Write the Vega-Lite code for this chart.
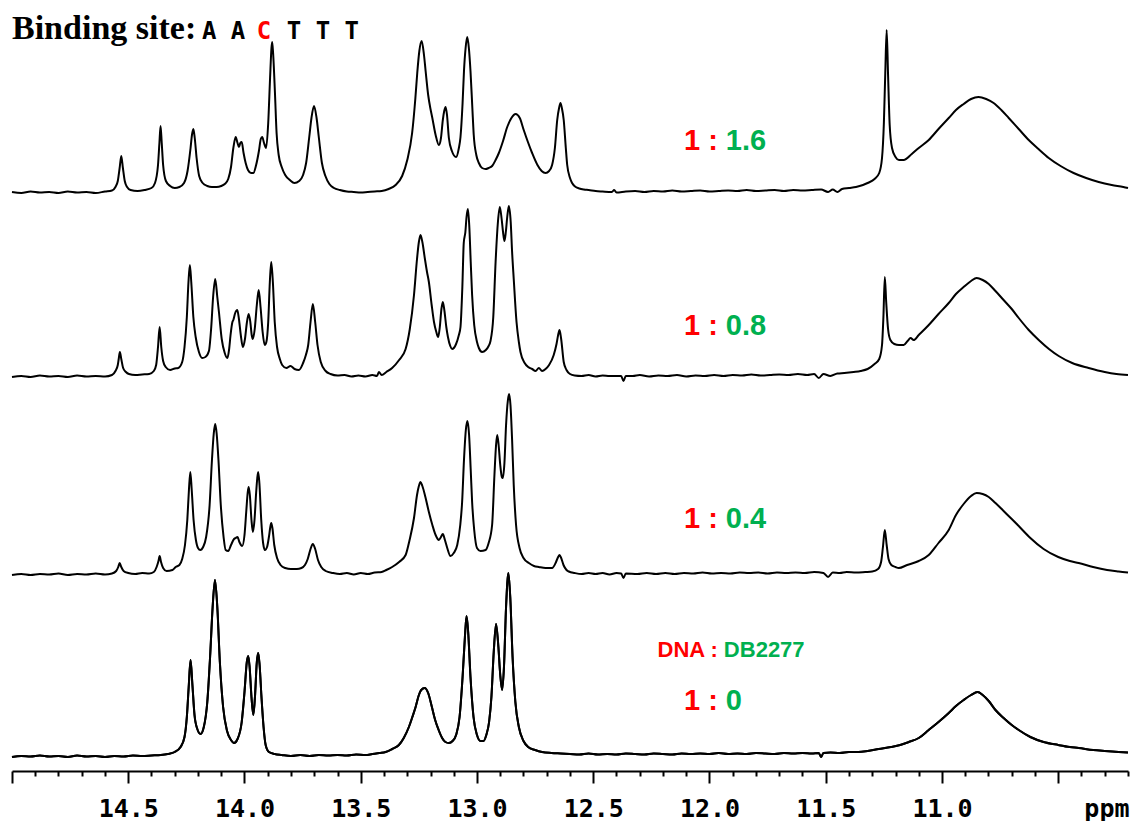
{
  "$schema": "https://vega.github.io/schema/vega-lite/v6.json",
  "padding": {"left": 8, "top": 0, "right": 0, "bottom": 0},
  "background": "white",
  "spacing": 0,
  "bounds": "flush",
  "config": {"view": {"stroke": null}, "concat": {"spacing": 0}},
  "resolve": {"scale": {"x": "independent", "y": "independent"}},
  "datasets": {
    "r16": [
      {"ppm":15.00,"amp":1},{"ppm":14.96,"amp":0},{"ppm":14.92,"amp":1.5},{"ppm":14.88,"amp":0.5},{"ppm":14.84,"amp":1},{"ppm":14.80,"amp":0},{"ppm":14.76,"amp":1.5},{"ppm":14.72,"amp":0.5},{"ppm":14.68,"amp":1},{"ppm":14.64,"amp":0},{"ppm":14.60,"amp":1.5},{"ppm":14.57,"amp":2.5},{"ppm":14.555,"amp":6},{"ppm":14.545,"amp":12},{"ppm":14.537,"amp":25},{"ppm":14.530,"amp":37},{"ppm":14.523,"amp":25},{"ppm":14.515,"amp":12},{"ppm":14.505,"amp":6},{"ppm":14.49,"amp":3},{"ppm":14.46,"amp":2},{"ppm":14.43,"amp":3},{"ppm":14.40,"amp":5},{"ppm":14.385,"amp":10},{"ppm":14.372,"amp":28},{"ppm":14.366,"amp":50},{"ppm":14.361,"amp":67},{"ppm":14.356,"amp":50},{"ppm":14.350,"amp":28},{"ppm":14.338,"amp":12},{"ppm":14.32,"amp":7},{"ppm":14.30,"amp":5},{"ppm":14.28,"amp":6},{"ppm":14.26,"amp":10},{"ppm":14.245,"amp":22},{"ppm":14.232,"amp":45},{"ppm":14.226,"amp":58},{"ppm":14.220,"amp":64},{"ppm":14.214,"amp":55},{"ppm":14.206,"amp":35},{"ppm":14.195,"amp":17},{"ppm":14.18,"amp":10},{"ppm":14.16,"amp":7},{"ppm":14.14,"amp":6},{"ppm":14.12,"amp":6},{"ppm":14.10,"amp":7},{"ppm":14.085,"amp":9},{"ppm":14.070,"amp":14},{"ppm":14.058,"amp":26},{"ppm":14.048,"amp":45},{"ppm":14.038,"amp":56},{"ppm":14.030,"amp":50},{"ppm":14.024,"amp":46},{"ppm":14.018,"amp":50},{"ppm":14.012,"amp":51},{"ppm":14.004,"amp":40},{"ppm":13.995,"amp":30},{"ppm":13.985,"amp":23},{"ppm":13.972,"amp":20},{"ppm":13.962,"amp":20},{"ppm":13.950,"amp":28},{"ppm":13.938,"amp":42},{"ppm":13.930,"amp":54},{"ppm":13.924,"amp":56},{"ppm":13.916,"amp":50},{"ppm":13.907,"amp":45},{"ppm":13.898,"amp":70},{"ppm":13.890,"amp":115},{"ppm":13.884,"amp":145},{"ppm":13.881,"amp":151},{"ppm":13.877,"amp":140},{"ppm":13.869,"amp":100},{"ppm":13.862,"amp":60},{"ppm":13.853,"amp":38},{"ppm":13.840,"amp":26},{"ppm":13.825,"amp":18},{"ppm":13.805,"amp":13},{"ppm":13.785,"amp":10},{"ppm":13.765,"amp":12},{"ppm":13.748,"amp":18},{"ppm":13.735,"amp":30},{"ppm":13.722,"amp":55},{"ppm":13.712,"amp":75},{"ppm":13.701,"amp":87},{"ppm":13.690,"amp":75},{"ppm":13.680,"amp":55},{"ppm":13.667,"amp":30},{"ppm":13.652,"amp":17},{"ppm":13.635,"amp":9},{"ppm":13.615,"amp":5},{"ppm":13.59,"amp":3},{"ppm":13.56,"amp":1.5},{"ppm":13.53,"amp":1},{"ppm":13.50,"amp":0.5},{"ppm":13.47,"amp":1},{"ppm":13.44,"amp":1.5},{"ppm":13.41,"amp":2},{"ppm":13.38,"amp":4},{"ppm":13.35,"amp":8},{"ppm":13.322,"amp":17},{"ppm":13.300,"amp":33},{"ppm":13.279,"amp":60},{"ppm":13.265,"amp":95},{"ppm":13.257,"amp":120},{"ppm":13.248,"amp":142},{"ppm":13.238,"amp":152},{"ppm":13.228,"amp":138},{"ppm":13.221,"amp":122},{"ppm":13.210,"amp":98},{"ppm":13.200,"amp":84},{"ppm":13.193,"amp":76},{"ppm":13.178,"amp":58},{"ppm":13.164,"amp":48},{"ppm":13.155,"amp":55},{"ppm":13.147,"amp":73},{"ppm":13.141,"amp":82},{"ppm":13.135,"amp":86},{"ppm":13.129,"amp":78},{"ppm":13.121,"amp":55},{"ppm":13.108,"amp":42},{"ppm":13.090,"amp":36},{"ppm":13.078,"amp":45},{"ppm":13.071,"amp":56},{"ppm":13.062,"amp":90},{"ppm":13.056,"amp":122},{"ppm":13.049,"amp":145},{"ppm":13.042,"amp":156},{"ppm":13.035,"amp":145},{"ppm":13.028,"amp":122},{"ppm":13.020,"amp":85},{"ppm":13.014,"amp":58},{"ppm":13.003,"amp":38},{"ppm":12.992,"amp":30},{"ppm":12.978,"amp":25},{"ppm":12.963,"amp":24},{"ppm":12.950,"amp":25},{"ppm":12.935,"amp":27},{"ppm":12.920,"amp":33},{"ppm":12.906,"amp":40},{"ppm":12.888,"amp":52},{"ppm":12.870,"amp":66},{"ppm":12.852,"amp":75},{"ppm":12.834,"amp":79},{"ppm":12.816,"amp":75},{"ppm":12.799,"amp":63},{"ppm":12.781,"amp":51},{"ppm":12.763,"amp":40},{"ppm":12.740,"amp":28},{"ppm":12.722,"amp":22},{"ppm":12.705,"amp":20},{"ppm":12.690,"amp":22},{"ppm":12.677,"amp":28},{"ppm":12.665,"amp":45},{"ppm":12.655,"amp":73},{"ppm":12.647,"amp":85},{"ppm":12.641,"amp":90},{"ppm":12.635,"amp":85},{"ppm":12.627,"amp":73},{"ppm":12.618,"amp":45},{"ppm":12.612,"amp":28},{"ppm":12.600,"amp":15},{"ppm":12.591,"amp":10},{"ppm":12.575,"amp":6},{"ppm":12.56,"amp":4.5},{"ppm":12.54,"amp":3.5},{"ppm":12.52,"amp":3},{"ppm":12.49,"amp":2},{"ppm":12.46,"amp":1.5},{"ppm":12.42,"amp":1},{"ppm":12.41,"amp":3},{"ppm":12.40,"amp":0.5},{"ppm":12.36,"amp":1.5},{"ppm":12.32,"amp":2},{"ppm":12.28,"amp":1},{"ppm":12.24,"amp":2},{"ppm":12.20,"amp":1.5},{"ppm":12.16,"amp":2.5},{"ppm":12.12,"amp":1.5},{"ppm":12.08,"amp":2},{"ppm":12.04,"amp":2.5},{"ppm":12.00,"amp":1.5},{"ppm":11.96,"amp":2},{"ppm":11.92,"amp":2.5},{"ppm":11.88,"amp":2},{"ppm":11.84,"amp":3},{"ppm":11.80,"amp":2},{"ppm":11.76,"amp":2.5},{"ppm":11.72,"amp":3},{"ppm":11.68,"amp":2},{"ppm":11.64,"amp":3},{"ppm":11.60,"amp":2.5},{"ppm":11.56,"amp":3},{"ppm":11.52,"amp":3.5},{"ppm":11.49,"amp":1},{"ppm":11.47,"amp":3.5},{"ppm":11.45,"amp":1},{"ppm":11.43,"amp":4},{"ppm":11.40,"amp":5},{"ppm":11.37,"amp":6},{"ppm":11.34,"amp":8},{"ppm":11.32,"amp":10},{"ppm":11.29,"amp":14},{"ppm":11.27,"amp":20},{"ppm":11.258,"amp":35},{"ppm":11.250,"amp":70},{"ppm":11.244,"amp":120},{"ppm":11.238,"amp":163},{"ppm":11.232,"amp":118},{"ppm":11.225,"amp":68},{"ppm":11.215,"amp":45},{"ppm":11.200,"amp":36},{"ppm":11.185,"amp":33},{"ppm":11.165,"amp":33},{"ppm":11.13,"amp":39},{"ppm":11.10,"amp":45},{"ppm":11.057,"amp":53},{"ppm":11.015,"amp":64},{"ppm":10.971,"amp":75},{"ppm":10.940,"amp":83},{"ppm":10.907,"amp":89},{"ppm":10.875,"amp":94},{"ppm":10.843,"amp":96},{"ppm":10.810,"amp":94},{"ppm":10.778,"amp":90},{"ppm":10.745,"amp":83},{"ppm":10.713,"amp":75},{"ppm":10.670,"amp":64},{"ppm":10.627,"amp":53},{"ppm":10.585,"amp":44},{"ppm":10.541,"amp":35},{"ppm":10.49,"amp":27},{"ppm":10.434,"amp":20},{"ppm":10.38,"amp":15},{"ppm":10.326,"amp":11},{"ppm":10.27,"amp":8},{"ppm":10.22,"amp":6},{"ppm":10.20,"amp":5}
    ],
    "r08": [
      {"ppm":15.00,"amp":0},{"ppm":14.96,"amp":1},{"ppm":14.92,"amp":0},{"ppm":14.88,"amp":1.5},{"ppm":14.84,"amp":0.5},{"ppm":14.80,"amp":1},{"ppm":14.76,"amp":0},{"ppm":14.72,"amp":1.5},{"ppm":14.68,"amp":0.5},{"ppm":14.64,"amp":1},{"ppm":14.60,"amp":0.5},{"ppm":14.57,"amp":2},{"ppm":14.555,"amp":6},{"ppm":14.545,"amp":12},{"ppm":14.541,"amp":18},{"ppm":14.536,"amp":25},{"ppm":14.530,"amp":18},{"ppm":14.522,"amp":9},{"ppm":14.510,"amp":5},{"ppm":14.497,"amp":3},{"ppm":14.47,"amp":2},{"ppm":14.44,"amp":2.5},{"ppm":14.41,"amp":3},{"ppm":14.39,"amp":6},{"ppm":14.380,"amp":12},{"ppm":14.372,"amp":30},{"ppm":14.365,"amp":50},{"ppm":14.358,"amp":30},{"ppm":14.350,"amp":16},{"ppm":14.339,"amp":10},{"ppm":14.32,"amp":7},{"ppm":14.30,"amp":8.5},{"ppm":14.285,"amp":9},{"ppm":14.268,"amp":15},{"ppm":14.258,"amp":30},{"ppm":14.248,"amp":60},{"ppm":14.241,"amp":95},{"ppm":14.235,"amp":112},{"ppm":14.229,"amp":95},{"ppm":14.220,"amp":60},{"ppm":14.210,"amp":40},{"ppm":14.196,"amp":25},{"ppm":14.182,"amp":19},{"ppm":14.168,"amp":20},{"ppm":14.153,"amp":26},{"ppm":14.143,"amp":50},{"ppm":14.135,"amp":80},{"ppm":14.126,"amp":98},{"ppm":14.117,"amp":80},{"ppm":14.110,"amp":65},{"ppm":14.098,"amp":38},{"ppm":14.085,"amp":24},{"ppm":14.074,"amp":19},{"ppm":14.066,"amp":28},{"ppm":14.060,"amp":42},{"ppm":14.052,"amp":55},{"ppm":14.048,"amp":57},{"ppm":14.040,"amp":64},{"ppm":14.031,"amp":67},{"ppm":14.024,"amp":58},{"ppm":14.016,"amp":42},{"ppm":14.007,"amp":30},{"ppm":13.998,"amp":38},{"ppm":13.990,"amp":54},{"ppm":13.982,"amp":63},{"ppm":13.975,"amp":55},{"ppm":13.969,"amp":42},{"ppm":13.964,"amp":38},{"ppm":13.956,"amp":48},{"ppm":13.947,"amp":72},{"ppm":13.939,"amp":87},{"ppm":13.931,"amp":70},{"ppm":13.922,"amp":45},{"ppm":13.913,"amp":32},{"ppm":13.906,"amp":35},{"ppm":13.898,"amp":55},{"ppm":13.891,"amp":95},{"ppm":13.885,"amp":115},{"ppm":13.878,"amp":95},{"ppm":13.870,"amp":55},{"ppm":13.860,"amp":30},{"ppm":13.848,"amp":18},{"ppm":13.838,"amp":12},{"ppm":13.820,"amp":9},{"ppm":13.802,"amp":11},{"ppm":13.785,"amp":8},{"ppm":13.766,"amp":7},{"ppm":13.748,"amp":14},{"ppm":13.736,"amp":22},{"ppm":13.726,"amp":32},{"ppm":13.716,"amp":55},{"ppm":13.706,"amp":73},{"ppm":13.696,"amp":55},{"ppm":13.686,"amp":32},{"ppm":13.672,"amp":15},{"ppm":13.651,"amp":6},{"ppm":13.63,"amp":3},{"ppm":13.60,"amp":1.5},{"ppm":13.57,"amp":2},{"ppm":13.54,"amp":0.5},{"ppm":13.51,"amp":1.5},{"ppm":13.48,"amp":0.5},{"ppm":13.45,"amp":2},{"ppm":13.43,"amp":1},{"ppm":13.422,"amp":5},{"ppm":13.41,"amp":2},{"ppm":13.39,"amp":5},{"ppm":13.365,"amp":9},{"ppm":13.335,"amp":17},{"ppm":13.307,"amp":28},{"ppm":13.289,"amp":48},{"ppm":13.271,"amp":82},{"ppm":13.258,"amp":118},{"ppm":13.250,"amp":135},{"ppm":13.243,"amp":142},{"ppm":13.235,"amp":135},{"ppm":13.224,"amp":118},{"ppm":13.215,"amp":105},{"ppm":13.207,"amp":95},{"ppm":13.195,"amp":72},{"ppm":13.185,"amp":55},{"ppm":13.175,"amp":45},{"ppm":13.167,"amp":40},{"ppm":13.160,"amp":50},{"ppm":13.153,"amp":68},{"ppm":13.147,"amp":75},{"ppm":13.140,"amp":66},{"ppm":13.132,"amp":50},{"ppm":13.125,"amp":40},{"ppm":13.115,"amp":31},{"ppm":13.107,"amp":28},{"ppm":13.090,"amp":33},{"ppm":13.078,"amp":42},{"ppm":13.071,"amp":50},{"ppm":13.063,"amp":90},{"ppm":13.057,"amp":134},{"ppm":13.050,"amp":145},{"ppm":13.045,"amp":160},{"ppm":13.039,"amp":168},{"ppm":13.033,"amp":150},{"ppm":13.027,"amp":115},{"ppm":13.021,"amp":82},{"ppm":13.012,"amp":52},{"ppm":13.000,"amp":35},{"ppm":12.992,"amp":29},{"ppm":12.978,"amp":25},{"ppm":12.962,"amp":27},{"ppm":12.950,"amp":31},{"ppm":12.942,"amp":36},{"ppm":12.930,"amp":60},{"ppm":12.920,"amp":115},{"ppm":12.910,"amp":155},{"ppm":12.902,"amp":170},{"ppm":12.894,"amp":158},{"ppm":12.888,"amp":145},{"ppm":12.882,"amp":136},{"ppm":12.876,"amp":145},{"ppm":12.870,"amp":160},{"ppm":12.863,"amp":171},{"ppm":12.855,"amp":155},{"ppm":12.849,"amp":125},{"ppm":12.842,"amp":98},{"ppm":12.830,"amp":55},{"ppm":12.820,"amp":35},{"ppm":12.813,"amp":25},{"ppm":12.795,"amp":14},{"ppm":12.780,"amp":10},{"ppm":12.763,"amp":8},{"ppm":12.748,"amp":6},{"ppm":12.734,"amp":9},{"ppm":12.720,"amp":6},{"ppm":12.705,"amp":8},{"ppm":12.690,"amp":12},{"ppm":12.670,"amp":22},{"ppm":12.658,"amp":33},{"ppm":12.651,"amp":42},{"ppm":12.645,"amp":47},{"ppm":12.638,"amp":38},{"ppm":12.627,"amp":15},{"ppm":12.615,"amp":7},{"ppm":12.600,"amp":3},{"ppm":12.58,"amp":1.5},{"ppm":12.55,"amp":1},{"ppm":12.52,"amp":2},{"ppm":12.49,"amp":0.5},{"ppm":12.46,"amp":1.5},{"ppm":12.43,"amp":1},{"ppm":12.38,"amp":1},{"ppm":12.37,"amp":-4},{"ppm":12.36,"amp":1},{"ppm":12.33,"amp":1},{"ppm":12.30,"amp":2},{"ppm":12.26,"amp":0.5},{"ppm":12.22,"amp":1.5},{"ppm":12.18,"amp":1},{"ppm":12.14,"amp":2},{"ppm":12.10,"amp":0.5},{"ppm":12.06,"amp":1.5},{"ppm":12.02,"amp":1},{"ppm":11.98,"amp":2},{"ppm":11.94,"amp":1},{"ppm":11.90,"amp":2},{"ppm":11.86,"amp":1.5},{"ppm":11.82,"amp":2.5},{"ppm":11.78,"amp":1.5},{"ppm":11.74,"amp":2},{"ppm":11.70,"amp":2.5},{"ppm":11.66,"amp":2},{"ppm":11.62,"amp":3},{"ppm":11.58,"amp":2},{"ppm":11.55,"amp":3},{"ppm":11.53,"amp":-1},{"ppm":11.51,"amp":3},{"ppm":11.48,"amp":1},{"ppm":11.45,"amp":3.5},{"ppm":11.42,"amp":4},{"ppm":11.38,"amp":5},{"ppm":11.35,"amp":6},{"ppm":11.32,"amp":8},{"ppm":11.29,"amp":13},{"ppm":11.27,"amp":18},{"ppm":11.258,"amp":32},{"ppm":11.252,"amp":60},{"ppm":11.246,"amp":100},{"ppm":11.240,"amp":75},{"ppm":11.232,"amp":48},{"ppm":11.222,"amp":37},{"ppm":11.205,"amp":33},{"ppm":11.185,"amp":32},{"ppm":11.165,"amp":32},{"ppm":11.148,"amp":36},{"ppm":11.135,"amp":39},{"ppm":11.122,"amp":37},{"ppm":11.10,"amp":42},{"ppm":11.057,"amp":52},{"ppm":11.015,"amp":63},{"ppm":10.971,"amp":74},{"ppm":10.94,"amp":83},{"ppm":10.907,"amp":90},{"ppm":10.875,"amp":96},{"ppm":10.851,"amp":99},{"ppm":10.825,"amp":97},{"ppm":10.799,"amp":93},{"ppm":10.77,"amp":86},{"ppm":10.735,"amp":77},{"ppm":10.70,"amp":68},{"ppm":10.670,"amp":59},{"ppm":10.627,"amp":47},{"ppm":10.584,"amp":37},{"ppm":10.54,"amp":28},{"ppm":10.498,"amp":21},{"ppm":10.44,"amp":14},{"ppm":10.369,"amp":9},{"ppm":10.30,"amp":5},{"ppm":10.25,"amp":3},{"ppm":10.20,"amp":2}
    ],
    "r04": [
      {"ppm":15.00,"amp":0},{"ppm":14.96,"amp":1},{"ppm":14.92,"amp":0},{"ppm":14.88,"amp":1},{"ppm":14.84,"amp":0.5},{"ppm":14.80,"amp":1.5},{"ppm":14.76,"amp":0},{"ppm":14.72,"amp":1},{"ppm":14.68,"amp":0.5},{"ppm":14.64,"amp":1.5},{"ppm":14.60,"amp":0.5},{"ppm":14.57,"amp":1.5},{"ppm":14.552,"amp":4},{"ppm":14.543,"amp":8},{"ppm":14.537,"amp":12},{"ppm":14.530,"amp":8},{"ppm":14.520,"amp":4},{"ppm":14.50,"amp":2},{"ppm":14.47,"amp":1},{"ppm":14.44,"amp":2},{"ppm":14.41,"amp":1.5},{"ppm":14.39,"amp":3},{"ppm":14.378,"amp":8},{"ppm":14.370,"amp":14},{"ppm":14.365,"amp":19},{"ppm":14.359,"amp":13},{"ppm":14.350,"amp":7},{"ppm":14.335,"amp":4},{"ppm":14.31,"amp":5},{"ppm":14.296,"amp":8},{"ppm":14.280,"amp":10},{"ppm":14.268,"amp":16},{"ppm":14.256,"amp":30},{"ppm":14.246,"amp":55},{"ppm":14.239,"amp":85},{"ppm":14.233,"amp":103},{"ppm":14.227,"amp":85},{"ppm":14.219,"amp":55},{"ppm":14.209,"amp":35},{"ppm":14.200,"amp":27},{"ppm":14.190,"amp":25},{"ppm":14.178,"amp":28},{"ppm":14.165,"amp":38},{"ppm":14.150,"amp":70},{"ppm":14.140,"amp":115},{"ppm":14.132,"amp":142},{"ppm":14.126,"amp":151},{"ppm":14.120,"amp":142},{"ppm":14.112,"amp":115},{"ppm":14.102,"amp":70},{"ppm":14.090,"amp":38},{"ppm":14.081,"amp":25},{"ppm":14.070,"amp":24},{"ppm":14.058,"amp":30},{"ppm":14.045,"amp":36},{"ppm":14.038,"amp":37},{"ppm":14.030,"amp":38},{"ppm":14.022,"amp":33},{"ppm":14.010,"amp":29},{"ppm":14.000,"amp":40},{"ppm":13.992,"amp":65},{"ppm":13.986,"amp":83},{"ppm":13.982,"amp":88},{"ppm":13.977,"amp":80},{"ppm":13.970,"amp":55},{"ppm":13.964,"amp":43},{"ppm":13.957,"amp":55},{"ppm":13.950,"amp":82},{"ppm":13.945,"amp":97},{"ppm":13.941,"amp":103},{"ppm":13.936,"amp":92},{"ppm":13.928,"amp":55},{"ppm":13.920,"amp":32},{"ppm":13.912,"amp":25},{"ppm":13.903,"amp":28},{"ppm":13.895,"amp":38},{"ppm":13.889,"amp":48},{"ppm":13.885,"amp":52},{"ppm":13.880,"amp":47},{"ppm":13.872,"amp":30},{"ppm":13.860,"amp":17},{"ppm":13.845,"amp":10},{"ppm":13.825,"amp":7},{"ppm":13.800,"amp":6},{"ppm":13.775,"amp":6},{"ppm":13.755,"amp":7},{"ppm":13.740,"amp":10},{"ppm":13.728,"amp":16},{"ppm":13.716,"amp":26},{"ppm":13.706,"amp":31},{"ppm":13.696,"amp":26},{"ppm":13.684,"amp":15},{"ppm":13.670,"amp":8},{"ppm":13.651,"amp":4},{"ppm":13.62,"amp":2},{"ppm":13.59,"amp":1},{"ppm":13.56,"amp":2},{"ppm":13.53,"amp":0.5},{"ppm":13.50,"amp":2},{"ppm":13.47,"amp":1},{"ppm":13.44,"amp":2.5},{"ppm":13.41,"amp":3},{"ppm":13.39,"amp":5},{"ppm":13.365,"amp":8},{"ppm":13.335,"amp":13},{"ppm":13.307,"amp":20},{"ppm":13.290,"amp":35},{"ppm":13.271,"amp":57},{"ppm":13.258,"amp":80},{"ppm":13.250,"amp":89},{"ppm":13.243,"amp":93},{"ppm":13.235,"amp":89},{"ppm":13.222,"amp":78},{"ppm":13.207,"amp":63},{"ppm":13.192,"amp":50},{"ppm":13.178,"amp":40},{"ppm":13.164,"amp":35},{"ppm":13.155,"amp":38},{"ppm":13.147,"amp":41},{"ppm":13.138,"amp":35},{"ppm":13.128,"amp":27},{"ppm":13.114,"amp":19},{"ppm":13.100,"amp":22},{"ppm":13.085,"amp":30},{"ppm":13.072,"amp":50},{"ppm":13.064,"amp":73},{"ppm":13.056,"amp":115},{"ppm":13.048,"amp":145},{"ppm":13.041,"amp":154},{"ppm":13.034,"amp":140},{"ppm":13.027,"amp":105},{"ppm":13.021,"amp":73},{"ppm":13.012,"amp":45},{"ppm":13.000,"amp":27},{"ppm":12.985,"amp":24},{"ppm":12.963,"amp":25},{"ppm":12.950,"amp":32},{"ppm":12.935,"amp":50},{"ppm":12.925,"amp":100},{"ppm":12.918,"amp":130},{"ppm":12.913,"amp":140},{"ppm":12.907,"amp":130},{"ppm":12.900,"amp":110},{"ppm":12.893,"amp":98},{"ppm":12.889,"amp":97},{"ppm":12.882,"amp":112},{"ppm":12.875,"amp":150},{"ppm":12.867,"amp":175},{"ppm":12.862,"amp":181},{"ppm":12.856,"amp":170},{"ppm":12.849,"amp":135},{"ppm":12.842,"amp":90},{"ppm":12.832,"amp":50},{"ppm":12.817,"amp":27},{"ppm":12.800,"amp":17},{"ppm":12.777,"amp":12},{"ppm":12.755,"amp":9},{"ppm":12.734,"amp":8},{"ppm":12.705,"amp":7},{"ppm":12.677,"amp":7},{"ppm":12.660,"amp":13},{"ppm":12.651,"amp":18},{"ppm":12.645,"amp":20},{"ppm":12.638,"amp":17},{"ppm":12.628,"amp":10},{"ppm":12.615,"amp":5},{"ppm":12.605,"amp":3.5},{"ppm":12.58,"amp":2},{"ppm":12.55,"amp":1},{"ppm":12.52,"amp":2},{"ppm":12.49,"amp":1},{"ppm":12.46,"amp":2},{"ppm":12.43,"amp":0.5},{"ppm":12.40,"amp":2},{"ppm":12.38,"amp":1.5},{"ppm":12.37,"amp":-3},{"ppm":12.36,"amp":1.5},{"ppm":12.31,"amp":1},{"ppm":12.27,"amp":2},{"ppm":12.23,"amp":1},{"ppm":12.19,"amp":2},{"ppm":12.15,"amp":1},{"ppm":12.11,"amp":2},{"ppm":12.07,"amp":1.5},{"ppm":12.03,"amp":2.5},{"ppm":11.99,"amp":1.5},{"ppm":11.95,"amp":2},{"ppm":11.91,"amp":1.5},{"ppm":11.87,"amp":2.5},{"ppm":11.83,"amp":2},{"ppm":11.79,"amp":2.5},{"ppm":11.75,"amp":1.5},{"ppm":11.71,"amp":2.5},{"ppm":11.67,"amp":2},{"ppm":11.63,"amp":2.5},{"ppm":11.59,"amp":2},{"ppm":11.55,"amp":3},{"ppm":11.51,"amp":2},{"ppm":11.49,"amp":-2},{"ppm":11.47,"amp":2.5},{"ppm":11.44,"amp":2},{"ppm":11.41,"amp":3},{"ppm":11.37,"amp":2.5},{"ppm":11.33,"amp":3},{"ppm":11.30,"amp":3.5},{"ppm":11.275,"amp":6},{"ppm":11.262,"amp":13},{"ppm":11.254,"amp":28},{"ppm":11.246,"amp":45},{"ppm":11.238,"amp":30},{"ppm":11.230,"amp":16},{"ppm":11.218,"amp":10},{"ppm":11.200,"amp":8},{"ppm":11.186,"amp":7},{"ppm":11.15,"amp":10},{"ppm":11.10,"amp":14},{"ppm":11.057,"amp":20},{"ppm":11.015,"amp":32},{"ppm":10.971,"amp":45},{"ppm":10.94,"amp":60},{"ppm":10.907,"amp":71},{"ppm":10.875,"amp":79},{"ppm":10.851,"amp":82},{"ppm":10.825,"amp":81},{"ppm":10.799,"amp":78},{"ppm":10.77,"amp":72},{"ppm":10.735,"amp":64},{"ppm":10.70,"amp":56},{"ppm":10.670,"amp":49},{"ppm":10.62,"amp":37},{"ppm":10.563,"amp":26},{"ppm":10.50,"amp":18},{"ppm":10.45,"amp":14},{"ppm":10.412,"amp":12},{"ppm":10.35,"amp":8},{"ppm":10.29,"amp":5},{"ppm":10.24,"amp":3.5},{"ppm":10.20,"amp":2.5}
    ],
    "r00": [
      {"ppm":15.00,"amp":0},{"ppm":14.96,"amp":1},{"ppm":14.92,"amp":0.5},{"ppm":14.88,"amp":1.5},{"ppm":14.84,"amp":0.5},{"ppm":14.80,"amp":1},{"ppm":14.76,"amp":0},{"ppm":14.72,"amp":1.5},{"ppm":14.68,"amp":0.5},{"ppm":14.64,"amp":1},{"ppm":14.60,"amp":0},{"ppm":14.56,"amp":1},{"ppm":14.52,"amp":0.5},{"ppm":14.48,"amp":1.5},{"ppm":14.44,"amp":1},{"ppm":14.40,"amp":1.5},{"ppm":14.36,"amp":2},{"ppm":14.33,"amp":3},{"ppm":14.30,"amp":5},{"ppm":14.275,"amp":10},{"ppm":14.258,"amp":20},{"ppm":14.248,"amp":40},{"ppm":14.240,"amp":70},{"ppm":14.232,"amp":97},{"ppm":14.224,"amp":72},{"ppm":14.215,"amp":42},{"ppm":14.203,"amp":28},{"ppm":14.189,"amp":23},{"ppm":14.175,"amp":30},{"ppm":14.160,"amp":55},{"ppm":14.148,"amp":100},{"ppm":14.137,"amp":150},{"ppm":14.127,"amp":177},{"ppm":14.117,"amp":150},{"ppm":14.106,"amp":95},{"ppm":14.092,"amp":50},{"ppm":14.075,"amp":26},{"ppm":14.058,"amp":17},{"ppm":14.045,"amp":14},{"ppm":14.030,"amp":18},{"ppm":14.012,"amp":35},{"ppm":14.000,"amp":65},{"ppm":13.990,"amp":95},{"ppm":13.984,"amp":101},{"ppm":13.978,"amp":90},{"ppm":13.970,"amp":60},{"ppm":13.962,"amp":42},{"ppm":13.955,"amp":60},{"ppm":13.947,"amp":95},{"ppm":13.941,"amp":104},{"ppm":13.935,"amp":92},{"ppm":13.927,"amp":60},{"ppm":13.918,"amp":30},{"ppm":13.909,"amp":12},{"ppm":13.895,"amp":5},{"ppm":13.87,"amp":3},{"ppm":13.84,"amp":2},{"ppm":13.80,"amp":1},{"ppm":13.76,"amp":2},{"ppm":13.72,"amp":1},{"ppm":13.68,"amp":2},{"ppm":13.64,"amp":1.5},{"ppm":13.60,"amp":2},{"ppm":13.56,"amp":1.5},{"ppm":13.52,"amp":2.5},{"ppm":13.48,"amp":2},{"ppm":13.45,"amp":3},{"ppm":13.42,"amp":4},{"ppm":13.393,"amp":5},{"ppm":13.365,"amp":8},{"ppm":13.336,"amp":12},{"ppm":13.315,"amp":19},{"ppm":13.293,"amp":30},{"ppm":13.278,"amp":40},{"ppm":13.264,"amp":50},{"ppm":13.250,"amp":62},{"ppm":13.240,"amp":67},{"ppm":13.225,"amp":69},{"ppm":13.210,"amp":64},{"ppm":13.194,"amp":50},{"ppm":13.180,"amp":37},{"ppm":13.165,"amp":27},{"ppm":13.150,"amp":19},{"ppm":13.136,"amp":15},{"ppm":13.121,"amp":14},{"ppm":13.105,"amp":16},{"ppm":13.090,"amp":22},{"ppm":13.075,"amp":40},{"ppm":13.062,"amp":80},{"ppm":13.052,"amp":120},{"ppm":13.045,"amp":141},{"ppm":13.038,"amp":125},{"ppm":13.028,"amp":80},{"ppm":13.015,"amp":40},{"ppm":13.000,"amp":22},{"ppm":12.985,"amp":16},{"ppm":12.972,"amp":16},{"ppm":12.960,"amp":22},{"ppm":12.948,"amp":35},{"ppm":12.938,"amp":60},{"ppm":12.928,"amp":105},{"ppm":12.918,"amp":133},{"ppm":12.908,"amp":110},{"ppm":12.900,"amp":82},{"ppm":12.892,"amp":67},{"ppm":12.884,"amp":90},{"ppm":12.875,"amp":150},{"ppm":12.865,"amp":184},{"ppm":12.857,"amp":160},{"ppm":12.847,"amp":100},{"ppm":12.835,"amp":55},{"ppm":12.820,"amp":30},{"ppm":12.800,"amp":16},{"ppm":12.780,"amp":10},{"ppm":12.75,"amp":7},{"ppm":12.72,"amp":5},{"ppm":12.68,"amp":4},{"ppm":12.64,"amp":3.5},{"ppm":12.60,"amp":3},{"ppm":12.56,"amp":2.5},{"ppm":12.52,"amp":3.5},{"ppm":12.48,"amp":2.5},{"ppm":12.44,"amp":3},{"ppm":12.40,"amp":2.5},{"ppm":12.36,"amp":3.5},{"ppm":12.32,"amp":3},{"ppm":12.28,"amp":2.5},{"ppm":12.24,"amp":3.5},{"ppm":12.20,"amp":3},{"ppm":12.16,"amp":2.5},{"ppm":12.12,"amp":3.5},{"ppm":12.08,"amp":3},{"ppm":12.04,"amp":3.5},{"ppm":12.00,"amp":3},{"ppm":11.96,"amp":4},{"ppm":11.92,"amp":3},{"ppm":11.88,"amp":3.5},{"ppm":11.84,"amp":3},{"ppm":11.80,"amp":4},{"ppm":11.76,"amp":3.5},{"ppm":11.72,"amp":3},{"ppm":11.68,"amp":4},{"ppm":11.64,"amp":3.5},{"ppm":11.60,"amp":4},{"ppm":11.56,"amp":3.5},{"ppm":11.53,"amp":4},{"ppm":11.52,"amp":0},{"ppm":11.51,"amp":4},{"ppm":11.48,"amp":4.5},{"ppm":11.44,"amp":4},{"ppm":11.40,"amp":5},{"ppm":11.36,"amp":5},{"ppm":11.32,"amp":6},{"ppm":11.272,"amp":8},{"ppm":11.22,"amp":10},{"ppm":11.18,"amp":12},{"ppm":11.143,"amp":15},{"ppm":11.10,"amp":19},{"ppm":11.057,"amp":27},{"ppm":11.015,"amp":35},{"ppm":10.971,"amp":44},{"ppm":10.94,"amp":51},{"ppm":10.907,"amp":57},{"ppm":10.875,"amp":62},{"ppm":10.847,"amp":65},{"ppm":10.825,"amp":62},{"ppm":10.799,"amp":56},{"ppm":10.77,"amp":47},{"ppm":10.735,"amp":39},{"ppm":10.70,"amp":32},{"ppm":10.670,"amp":27},{"ppm":10.62,"amp":20},{"ppm":10.563,"amp":15},{"ppm":10.50,"amp":12},{"ppm":10.45,"amp":10},{"ppm":10.412,"amp":9},{"ppm":10.35,"amp":7},{"ppm":10.30,"amp":6},{"ppm":10.24,"amp":5},{"ppm":10.20,"amp":4.5}
    ]
  },
  "vconcat": [
    {
      "width": 1116, "height": 200,
      "layer": [
        {"data": {"name": "r16"}, "mark": {"type": "line", "color": "black", "strokeWidth": 2, "interpolate": "monotone"},
         "encoding": {
           "x": {"field": "ppm", "type": "quantitative", "scale": {"domain": [10.2, 15], "reverse": true, "nice": false, "zero": false}, "axis": null},
           "y": {"field": "amp", "type": "quantitative", "scale": {"domain": [-7, 193], "nice": false, "zero": false}, "axis": null}}},
        {"data": {"values": [{"t": "Binding site:"}]}, "mark": {"type": "text", "align": "left", "baseline": "alphabetic", "font": "Liberation Serif", "fontWeight": "bold", "fontSize": 34, "color": "black"},
         "encoding": {"x": {"datum": 15.0, "type": "quantitative", "axis": null}, "y": {"datum": 153.7, "type": "quantitative", "axis": null}, "text": {"field": "t"}}},
        {"data": {"values": [{"t": "A A"}]}, "mark": {"type": "text", "align": "left", "baseline": "alphabetic", "font": "DejaVu Sans Mono", "fontWeight": "bold", "fontSize": 24, "color": "black"},
         "encoding": {"x": {"datum": 14.183, "type": "quantitative", "axis": null}, "y": {"datum": 153.7, "type": "quantitative", "axis": null}, "text": {"field": "t"}}},
        {"data": {"values": [{"t": "C"}]}, "mark": {"type": "text", "align": "left", "baseline": "alphabetic", "font": "DejaVu Sans Mono", "fontWeight": "bold", "fontSize": 24, "color": "#FF0000"},
         "encoding": {"x": {"datum": 13.947, "type": "quantitative", "axis": null}, "y": {"datum": 153.7, "type": "quantitative", "axis": null}, "text": {"field": "t"}}},
        {"data": {"values": [{"t": "T T T"}]}, "mark": {"type": "text", "align": "left", "baseline": "alphabetic", "font": "DejaVu Sans Mono", "fontWeight": "bold", "fontSize": 24, "color": "black"},
         "encoding": {"x": {"datum": 13.818, "type": "quantitative", "axis": null}, "y": {"datum": 153.7, "type": "quantitative", "axis": null}, "text": {"field": "t"}}},
        {"data": {"values": [{"t": "1 :"}]}, "mark": {"type": "text", "align": "right", "baseline": "alphabetic", "font": "Liberation Sans", "fontWeight": "bold", "fontSize": 29, "color": "#FF0000"},
         "encoding": {"x": {"datum": 11.964, "type": "quantitative", "axis": null}, "y": {"datum": 43, "type": "quantitative", "axis": null}, "text": {"field": "t"}}},
        {"data": {"values": [{"t": "1.6"}]}, "mark": {"type": "text", "align": "left", "baseline": "alphabetic", "dx": 8, "font": "Liberation Sans", "fontWeight": "bold", "fontSize": 29, "color": "#00B050"},
         "encoding": {"x": {"datum": 11.964, "type": "quantitative", "axis": null}, "y": {"datum": 43, "type": "quantitative", "axis": null}, "text": {"field": "t"}}}
      ]
    },
    {
      "width": 1116, "height": 185,
      "layer": [
        {"data": {"name": "r08"}, "mark": {"type": "line", "color": "black", "strokeWidth": 2, "interpolate": "monotone"},
         "encoding": {
           "x": {"field": "ppm", "type": "quantitative", "scale": {"domain": [10.2, 15], "reverse": true, "nice": false, "zero": false}, "axis": null},
           "y": {"field": "amp", "type": "quantitative", "scale": {"domain": [-8, 177], "nice": false, "zero": false}, "axis": null}}},
        {"data": {"values": [{"t": "1 :"}]}, "mark": {"type": "text", "align": "right", "baseline": "alphabetic", "font": "Liberation Sans", "fontWeight": "bold", "fontSize": 29, "color": "#FF0000"},
         "encoding": {"x": {"datum": 11.964, "type": "quantitative", "axis": null}, "y": {"datum": 42, "type": "quantitative", "axis": null}, "text": {"field": "t"}}},
        {"data": {"values": [{"t": "0.8"}]}, "mark": {"type": "text", "align": "left", "baseline": "alphabetic", "dx": 8, "font": "Liberation Sans", "fontWeight": "bold", "fontSize": 29, "color": "#00B050"},
         "encoding": {"x": {"datum": 11.964, "type": "quantitative", "axis": null}, "y": {"datum": 42, "type": "quantitative", "axis": null}, "text": {"field": "t"}}}
      ]
    },
    {
      "width": 1116, "height": 195,
      "layer": [
        {"data": {"name": "r04"}, "mark": {"type": "line", "color": "black", "strokeWidth": 2, "interpolate": "monotone"},
         "encoding": {
           "x": {"field": "ppm", "type": "quantitative", "scale": {"domain": [10.2, 15], "reverse": true, "nice": false, "zero": false}, "axis": null},
           "y": {"field": "amp", "type": "quantitative", "scale": {"domain": [-5, 190], "nice": false, "zero": false}, "axis": null}}},
        {"data": {"values": [{"t": "1 :"}]}, "mark": {"type": "text", "align": "right", "baseline": "alphabetic", "font": "Liberation Sans", "fontWeight": "bold", "fontSize": 29, "color": "#FF0000"},
         "encoding": {"x": {"datum": 11.964, "type": "quantitative", "axis": null}, "y": {"datum": 47, "type": "quantitative", "axis": null}, "text": {"field": "t"}}},
        {"data": {"values": [{"t": "0.4"}]}, "mark": {"type": "text", "align": "left", "baseline": "alphabetic", "dx": 8, "font": "Liberation Sans", "fontWeight": "bold", "fontSize": 29, "color": "#00B050"},
         "encoding": {"x": {"datum": 11.964, "type": "quantitative", "axis": null}, "y": {"datum": 47, "type": "quantitative", "axis": null}, "text": {"field": "t"}}}
      ]
    },
    {
      "width": 1116, "height": 191,
      "resolve": {"axis": {"x": "independent"}},
      "layer": [
        {"data": {"name": "r00"}, "mark": {"type": "line", "color": "black", "strokeWidth": 2, "interpolate": "monotone"},
         "encoding": {
           "x": {"field": "ppm", "type": "quantitative", "scale": {"domain": [10.2, 15], "reverse": true, "nice": false, "zero": false},
                 "axis": {
                   "orient": "bottom",
                   "values": [15.0,14.5,14.0,13.5,13.0,12.5,12.0,11.5,11.0,10.5],
                   "title": "ppm", "titleFont": "DejaVu Sans Mono", "titleFontWeight": "bold", "titleFontSize": 25, "titleColor": "black",
                   "titleX": 1117, "titleY": 45, "titleAlign": "right", "titleBaseline": "alphabetic", "titleAngle": 0,
                   "domainColor": "black", "domainWidth": 2, "tickColor": "black", "tickWidth": 2, "tickSize": 12,
                   "labelExpr": "(datum.value < 14.9 && datum.value > 10.6) ? format(datum.value, '.1f') : ''",
                   "labelFont": "DejaVu Sans Mono", "labelFontWeight": "bold", "labelFontSize": 25, "labelColor": "black",
                   "labelBaseline": "alphabetic", "labelPadding": 33, "labelOverlap": false, "labelFlush": false, "labelBound": false, "grid": false
                 }},
           "y": {"field": "amp", "type": "quantitative", "scale": {"domain": [-14, 177], "nice": false, "zero": false}, "axis": null}}},
        {"data": {"name": "r00"}, "mark": {"type": "line", "color": "black", "strokeWidth": 2, "interpolate": "monotone"},
         "encoding": {
           "x": {"field": "ppm", "type": "quantitative",
                 "axis": {
                   "orient": "bottom",
                   "values": [14.9,14.8,14.7,14.6,14.4,14.3,14.2,14.1,13.9,13.8,13.7,13.6,13.4,13.3,13.2,13.1,12.9,12.8,12.7,12.6,12.4,12.3,12.2,12.1,11.9,11.8,11.7,11.6,11.4,11.3,11.2,11.1,10.9,10.8,10.7,10.6,10.4,10.3,10.2],
                   "title": null, "labels": false, "domain": false, "grid": false,
                   "tickColor": "black", "tickWidth": 2, "tickSize": 5
                 }},
           "y": {"field": "amp", "type": "quantitative", "axis": null}}},
        {"data": {"values": [{"t": "DNA :"}]}, "mark": {"type": "text", "align": "right", "baseline": "alphabetic", "font": "Liberation Sans", "fontWeight": "bold", "fontSize": 22, "color": "#FF0000"},
         "encoding": {"x": {"datum": 11.964, "type": "quantitative", "axis": null}, "y": {"datum": 100, "type": "quantitative", "axis": null}, "text": {"field": "t"}}},
        {"data": {"values": [{"t": "DB2277"}]}, "mark": {"type": "text", "align": "left", "baseline": "alphabetic", "dx": 6, "font": "Liberation Sans", "fontWeight": "bold", "fontSize": 22, "color": "#00B050"},
         "encoding": {"x": {"datum": 11.964, "type": "quantitative", "axis": null}, "y": {"datum": 100, "type": "quantitative", "axis": null}, "text": {"field": "t"}}},
        {"data": {"values": [{"t": "1 :"}]}, "mark": {"type": "text", "align": "right", "baseline": "alphabetic", "font": "Liberation Sans", "fontWeight": "bold", "fontSize": 29, "color": "#FF0000"},
         "encoding": {"x": {"datum": 11.964, "type": "quantitative", "axis": null}, "y": {"datum": 47, "type": "quantitative", "axis": null}, "text": {"field": "t"}}},
        {"data": {"values": [{"t": "0"}]}, "mark": {"type": "text", "align": "left", "baseline": "alphabetic", "dx": 8, "font": "Liberation Sans", "fontWeight": "bold", "fontSize": 29, "color": "#00B050"},
         "encoding": {"x": {"datum": 11.964, "type": "quantitative", "axis": null}, "y": {"datum": 47, "type": "quantitative", "axis": null}, "text": {"field": "t"}}}
      ]
    }
  ]
}
